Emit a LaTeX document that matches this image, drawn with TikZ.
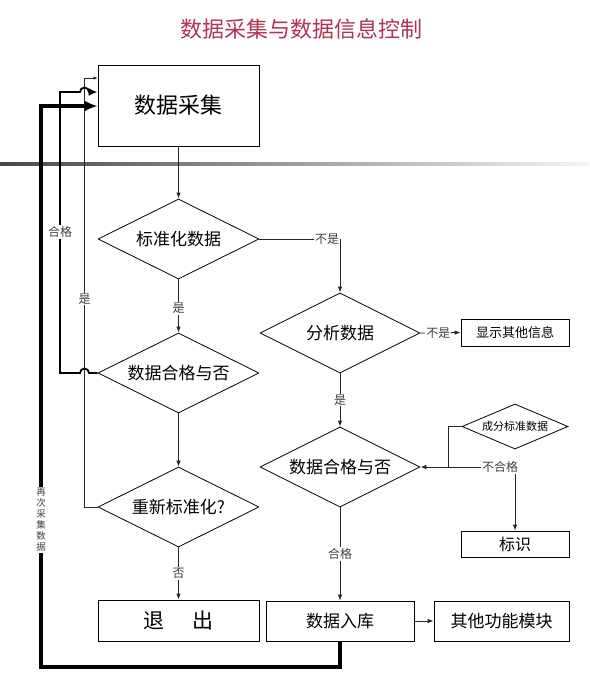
\documentclass[tikz,border=0pt]{standalone}
\usepackage{fontspec}
\setmainfont{Noto Sans CJK SC}
\usetikzlibrary{shapes.geometric,arrows.meta}
\definecolor{titlered}{RGB}{178,52,82}
\tikzset{
  fs/.style={font=\fontsize{#1}{#1}\selectfont},
  box/.style={draw, line width=0.8pt, rectangle, inner sep=0pt},
  dia/.style={draw, line width=0.8pt, diamond, aspect=2, inner sep=0pt},
  conn/.style={line width=0.8pt, draw=black!85},
  tip/.style={-{Latex[length=6pt,width=4.5pt]}},
  lab/.style={fill=white, inner sep=1pt, text=black!75, font=\fontsize{12}{12}\selectfont},
}
\begin{document}
\begin{tikzpicture}[x=1pt,y=-1pt]
\useasboundingbox (0,0) rectangle (589,677);
\fill[white] (0,0) rectangle (589,677);
% divider
\shade[left color=black!72, right color=black!4] (0,162.5) rectangle (589,165.5);
% title
\node[text=titlered, fs=22] (title) at (301,29) {数据采集与数据信息控制};
% nodes
\node[box, minimum width=161pt, minimum height=81pt, fs=22] (collect) at (178.5,105.5) {数据采集};
\node[dia, minimum width=161pt, minimum height=80pt, fs=17] (std) at (178.5,239) {标准化数据};
\node[dia, minimum width=161pt, minimum height=80pt, fs=17] (ok1) at (178.5,373) {数据合格与否};
\node[dia, minimum width=161pt, minimum height=80pt, fs=17] (restd) at (178.5,507) {重新标准化?};
\node[box, minimum width=161pt, minimum height=41pt, fs=21] (exit) at (178.5,620.5) {退\hspace{1.3em}出};
\node[dia, minimum width=160pt, minimum height=80pt, fs=17] (ana) at (340,333) {分析数据};
\node[box, minimum width=108pt, minimum height=27pt, fs=13] (info) at (515,332.5) {显示其他信息};
\node[dia, minimum width=160pt, minimum height=80pt, fs=17] (ok2) at (340,467) {数据合格与否};
\node[dia, aspect=2.4, minimum width=106pt, minimum height=45pt, fs=11] (comp) at (515,426.5) {成分标准数据};
\node[box, minimum width=108pt, minimum height=26pt, fs=16] (mark) at (515,544) {标识};
\node[box, minimum width=148pt, minimum height=40pt, fs=17] (store) at (340,621) {数据入库};
\node[box, minimum width=135pt, minimum height=40pt, fs=17] (other) at (501.5,621) {其他功能模块};
% helper coordinates
\coordinate (jn) at (448,467);
% main flow
\draw[conn, tip] (collect.south) -- (std.north);
\draw[conn, tip] (std.south) -- (ok1.north) node[lab, pos=0.55] {是};
\draw[conn, tip] (std.east) -| (ana.north);
\node[lab] at (327,239) {不是};
\draw[conn, tip] (ana.east) -- (info.west) node[lab, pos=0.45] {不是};
\draw[conn, tip] (ana.south) -- (ok2.north) node[lab, pos=0.5] {是};
\draw[conn, tip] (comp.west) -| (jn) -- (ok2.east);
\draw[conn, tip] (jn) -| (mark.north);
\node[lab] at (500,467) {不合格};
\draw[conn, tip] (ok2.south) -- (store.north) node[lab, pos=0.5] {合格};
\draw[conn, tip] (store.east) -- (other.west);
\draw[conn, tip] (ok1.south) -- (restd.north);
\draw[conn, tip] (restd.south) -- (exit.north) node[lab, pos=0.5] {否};
% feedback: thin line (是)
\draw[conn, -{Latex[length=4pt,width=3.5pt]}] (restd.west) -- (84.5,507) -- (84.5,78) -- (collect.west |- 0,78);
\node[lab] at (84.5,299) {是};
% feedback: medium line (合格)
\draw[line width=1.8pt, -{Latex[length=9pt,width=8pt]}] (ok1.west) -- (89,373) arc (0:-180:4.5) -- (60,373) -- (60,92) -- (80,92) arc (180:360:4.5) -- (collect.west |- 0,92);
\node[lab] at (60,232) {合格};
% feedback: thick line (再次采集数据)
\draw[line width=3.6pt, -{Latex[length=13pt,width=11pt]}] (store.south) -- (340,667) -- (41,667) -- (41,106) -- (collect.west |- 0,106);
\node[fill=white, inner sep=1pt, text=black!75, align=center, font=\fontsize{9.5}{11}\selectfont] at (41,520) {再\\次\\采\\集\\数\\据};
\end{tikzpicture}
\end{document}
